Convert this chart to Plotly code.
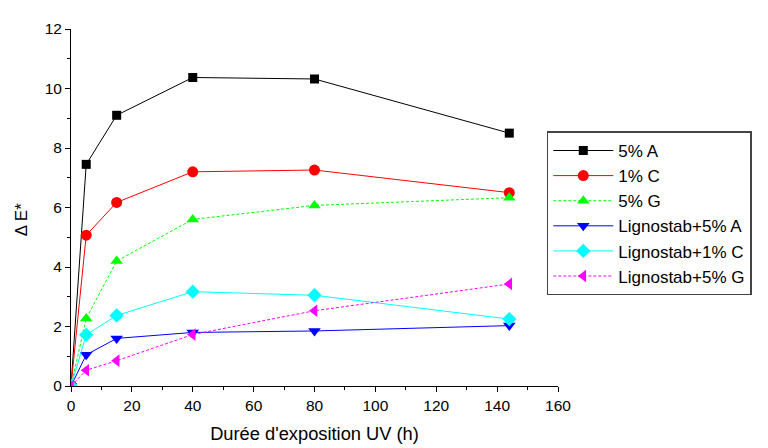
import plotly.graph_objects as go

# exposure times (h)
hours = [0, 5, 15, 40, 80, 144]

# delta E* per formulation
s_5A = [0, 7.45, 9.1, 10.37, 10.32, 8.5]
s_1C = [0, 5.07, 6.17, 7.2, 7.26, 6.5]
s_5G = [0, 2.27, 4.2, 5.6, 6.07, 6.33]
lig_5A = [0, 1.05, 1.6, 1.8, 1.85, 2.03]
lig_1C = [0, 1.72, 2.37, 3.17, 3.05, 2.25]
lig_5G = [0, 0.53, 0.85, 1.73, 2.53, 3.43]

names = ["5% A", "1% C", "5% G", "Lignostab+5% A", "Lignostab+1% C", "Lignostab+5% G"]
series = [s_5A, s_1C, s_5G, lig_5A, lig_1C, lig_5G]
colors = ["#000000", "#ff0000", "#00ff00", "#0000ff", "#00ffff", "#ff00ff"]
symbols = ["square", "circle", "triangle-up", "triangle-down", "diamond", "triangle-left"]
dashes = ["solid", "solid", "3px,2px", "solid", "solid", "3px,2px"]
sizes = [9, 11, 11, 11, 11, 11]

fig = go.Figure()
for name, vals, c, sym, d, sz in zip(names, series, colors, symbols, dashes, sizes):
    fig.add_trace(go.Scatter(
        x=hours, y=vals, name=name, mode="lines+markers",
        line=dict(color=c, width=1, dash=d),
        marker=dict(symbol=sym, size=sz, color=c),
    ))

axis_font = dict(family="Arial, Liberation Sans", size=15.5, color="#000")
fig.update_layout(
    width=768, height=448,
    margin=dict(l=63, r=218, t=16, b=70),
    paper_bgcolor="white", plot_bgcolor="white",
    font=axis_font,
    showlegend=True,
    legend=dict(
        x=0.977, xanchor="left", xref="paper", y=0.713, yanchor="top",
        bordercolor="#444", borderwidth=1.5,
        font=dict(family="Arial, Liberation Sans", size=17, color="#000"),
        itemwidth=60, tracegroupgap=0,
    ),
    xaxis=dict(
        range=[0, 160], dtick=20, showgrid=False, zeroline=False,
        showline=True, linecolor="#000", linewidth=1,
        ticks="outside", ticklen=5, tickcolor="#000",
        minor=dict(dtick=10, ticks="outside", ticklen=3, tickcolor="#000"),
        title=dict(text="Durée d'exposition UV (h)", font=dict(size=18.3), standoff=14),
        tickfont=axis_font,
    ),
    yaxis=dict(
        range=[0, 12], dtick=2, showgrid=False, zeroline=False,
        showline=True, linecolor="#000", linewidth=1,
        ticks="outside", ticklen=5, tickcolor="#000",
        minor=dict(dtick=1, ticks="outside", ticklen=3, tickcolor="#000"),
        tickfont=axis_font,
    ),
    annotations=[dict(
        text="Δ E*", textangle=-90, showarrow=False,
        xref="paper", yref="paper", x=-0.1, y=0.465,
        xanchor="center", yanchor="middle",
        font=dict(family="Arial, Liberation Sans", size=17, color="#000"),
    )],
)

fig.write_html("out.html")
